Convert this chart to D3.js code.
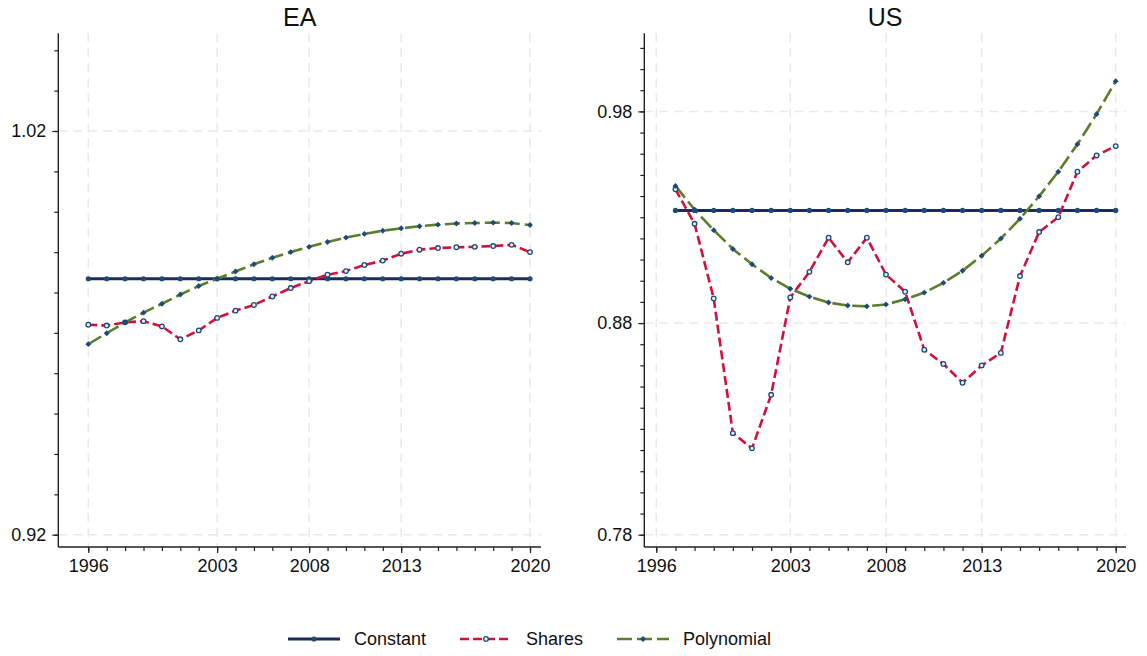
<!DOCTYPE html>
<html>
<head>
<meta charset="utf-8">
<script src="https://cdn.jsdelivr.net/npm/d3@7"></script>
<style>
  body { margin: 0; background: #fff; }
  text { font-family: "Liberation Sans", Arial, sans-serif; fill: #111; }
  .grid line { stroke: #e9e9e9; stroke-width: 1.5; stroke-dasharray: 9,6; }
  .axis path, .axis line { stroke: #222; stroke-width: 1.2; }
</style>
</head>
<body>
<div id="chart"></div>
<script>
// Years
const yearsEA = d3.range(1996, 2021);
const yearsUS = d3.range(1997, 2021);
const xMajor = [1996, 2003, 2008, 2013, 2020];

// EA series
const eaConstant = yearsEA.map(() => 0.9834);
const eaShares = [0.9720, 0.9718, 0.9726, 0.9729, 0.9716, 0.9684, 0.9706, 0.9737, 0.9755, 0.9769,
  0.9790, 0.9811, 0.9828, 0.9844, 0.9853, 0.9868, 0.9879, 0.9896, 0.9906, 0.9910,
  0.9912, 0.9913, 0.9915, 0.9918, 0.9900];
const eaPoly = [0.9672, 0.9699, 0.9726, 0.9750, 0.9772, 0.9795, 0.9816, 0.9834, 0.9852, 0.9870,
  0.9886, 0.9900, 0.9913, 0.9925, 0.9936, 0.9945, 0.9953, 0.9959, 0.9964, 0.9968,
  0.9971, 0.9972, 0.9973, 0.9972, 0.9967];

// US series
const usConstant = yearsUS.map(() => 0.9332);
const usShares = [0.9432, 0.9269, 0.8916, 0.8280, 0.8208, 0.8461, 0.8921, 0.9042, 0.9203, 0.9087,
  0.9203, 0.9029, 0.8948, 0.8674, 0.8607, 0.8518, 0.8600, 0.8659, 0.9022, 0.9230,
  0.9300, 0.9515, 0.9592, 0.9636];
const usPoly = [0.9448, 0.9336, 0.9239, 0.9150, 0.9078, 0.9013, 0.8962, 0.8925, 0.8897, 0.8883,
  0.8879, 0.8888, 0.8912, 0.8944, 0.8990, 0.9047, 0.9118, 0.9199, 0.9293, 0.9399,
  0.9515, 0.9645, 0.9787, 0.9943];

// Y ticks
const eaYMajor = [0.92, 1.02];
const eaYMinor = d3.range(92, 105).map(d => d / 100);
const usYMajor = [0.78, 0.88, 0.98];
const usYMinor = d3.range(78, 102).map(d => d / 100);

const seriesNames = ['Constant', 'Shares', 'Polynomial'];

const W = 1147, H = 656;
const svg = d3.select('#chart').append('svg')
  .attr('width', W)
  .attr('height', H);

const markerColor = '#1d4a78';
const styles = {
  Constant: {color: '#1b2c5b', width: 3, dash: null, marker: 'circle'},
  Shares: {color: '#d3103c', width: 2.6, dash: '9,4', marker: 'hollow'},
  Polynomial: {color: '#5b7e2c', width: 2.6, dash: '15,5', marker: 'diamond'}
};

function drawMarker(g, type, x, y) {
  if (type === 'diamond') {
    g.append('path')
      .attr('d', d3.symbol(d3.symbolDiamond2, 22)())
      .attr('transform', `translate(${x},${y})`)
      .attr('fill', markerColor);
  } else if (type === 'hollow') {
    g.append('circle').attr('cx', x).attr('cy', y).attr('r', 2.3)
      .attr('fill', '#e8eef5').attr('stroke', markerColor).attr('stroke-width', 1.3);
  } else {
    g.append('circle').attr('cx', x).attr('cy', y).attr('r', 2.6)
      .attr('fill', markerColor);
  }
}

function panel(opts) {
  const {title, frame, padL, padR, yDomain, yMajor, yMinor, years, series} = opts;
  const g = svg.append('g');

  const x = d3.scaleLinear()
    .domain([1996, 2020])
    .range([frame.left + padL, frame.right - padR]);
  const y = d3.scaleLinear()
    .domain(yDomain)
    .range([frame.bottom, frame.top]);

  // Grid lines
  const grid = g.append('g').attr('class', 'grid');
  grid.selectAll('.gx').data(xMajor).enter().append('line')
    .attr('x1', d => x(d)).attr('x2', d => x(d))
    .attr('y1', frame.top).attr('y2', frame.bottom);
  grid.selectAll('.gy').data(yMajor).enter().append('line')
    .attr('x1', frame.left).attr('x2', frame.right)
    .attr('y1', d => y(d)).attr('y2', d => y(d));

  // Axes
  const xAxisMinor = d3.axisBottom(x).tickValues(d3.range(1996, 2021)).tickFormat('').tickSize(4).tickSizeOuter(0);
  const xAxisMajor = d3.axisBottom(x).tickValues(xMajor).tickFormat(d3.format('d')).tickSize(6).tickPadding(6).tickSizeOuter(0);
  const yAxisMinor = d3.axisLeft(y).tickValues(yMinor).tickFormat('').tickSize(4).tickSizeOuter(0);
  const yAxisMajor = d3.axisLeft(y).tickValues(yMajor).tickFormat(d3.format('.2f')).tickSize(6).tickPadding(6).tickSizeOuter(0);

  [xAxisMinor, xAxisMajor].forEach(ax => {
    const a = g.append('g').attr('class', 'axis')
      .attr('transform', `translate(0,${frame.bottom})`)
      .call(ax);
    a.select('.domain').remove();
    a.selectAll('text').style('font-size', '18px').attr('fill', '#111');
  });
  [yAxisMinor, yAxisMajor].forEach(ax => {
    const a = g.append('g').attr('class', 'axis')
      .attr('transform', `translate(${frame.left},0)`)
      .call(ax);
    a.select('.domain').remove();
    a.selectAll('text').style('font-size', '18px').attr('fill', '#111');
  });
  g.append('line').attr('x1', frame.left).attr('x2', frame.right)
    .attr('y1', frame.bottom).attr('y2', frame.bottom)
    .attr('stroke', '#222').attr('stroke-width', 1.4);
  g.append('line').attr('x1', frame.left).attr('x2', frame.left)
    .attr('y1', frame.top).attr('y2', frame.bottom)
    .attr('stroke', '#222').attr('stroke-width', 1.4);

  // Lines
  const line = d3.line().x((d, i) => x(years[i])).y(d => y(d));
  seriesNames.forEach(name => {
    const s = styles[name];
    g.append('path')
      .datum(series[name])
      .attr('fill', 'none')
      .attr('stroke', s.color)
      .attr('stroke-width', s.width)
      .attr('stroke-dasharray', s.dash)
      .attr('d', line);
  });
  seriesNames.forEach(name => {
    const mg = g.append('g');
    series[name].forEach((v, i) => drawMarker(mg, styles[name].marker, x(years[i]), y(v)));
  });

  // Title
  g.append('text')
    .attr('x', (frame.left + frame.right) / 2)
    .attr('y', 26)
    .attr('text-anchor', 'middle')
    .style('font-size', '25px')
    .text(title);
}

panel({
  title: 'EA',
  frame: {left: 58.3, right: 541, top: 33.3, bottom: 547},
  padL: 30, padR: 11,
  yDomain: [0.91695, 1.0442],
  yMajor: eaYMajor, yMinor: eaYMinor,
  years: yearsEA,
  series: {Constant: eaConstant, Shares: eaShares, Polynomial: eaPoly}
});

panel({
  title: 'US',
  frame: {left: 644.3, right: 1126, top: 33.3, bottom: 547},
  padL: 12, padR: 10.3,
  yDomain: [0.7742, 1.0169],
  yMajor: usYMajor, yMinor: usYMinor,
  years: yearsUS,
  series: {Constant: usConstant, Shares: usShares, Polynomial: usPoly}
});

// Legend
const legendX = [288, 460, 617];
const legend = svg.append('g');
seriesNames.forEach((name, i) => {
  const s = styles[name];
  const lx = legendX[i], ly = 639;
  legend.append('line')
    .attr('x1', lx).attr('x2', lx + 52)
    .attr('y1', ly).attr('y2', ly)
    .attr('stroke', s.color)
    .attr('stroke-width', s.width)
    .attr('stroke-dasharray', s.dash);
  drawMarker(legend, s.marker, lx + 26, ly);
  legend.append('text')
    .attr('x', lx + 66)
    .attr('y', ly)
    .attr('dy', '0.35em')
    .style('font-size', '18px')
    .text(name);
});
</script>
</body>
</html>
